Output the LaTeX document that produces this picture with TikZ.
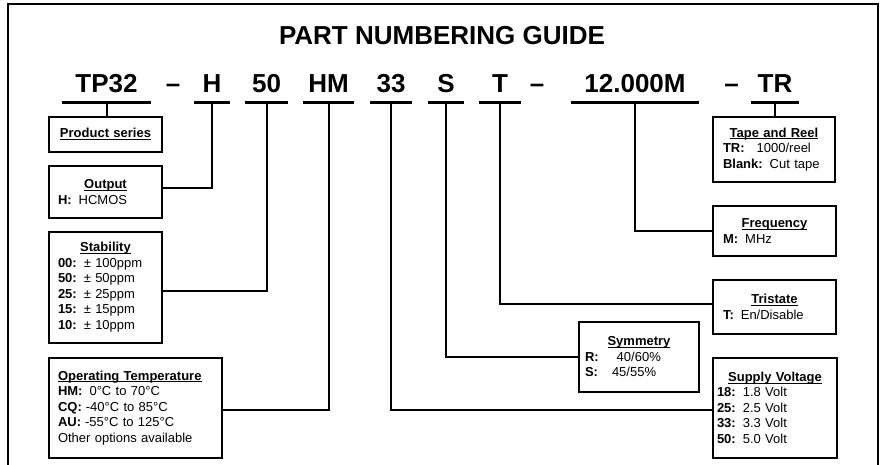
\documentclass[tikz,border=0pt]{standalone}
\usepackage{fontspec}
\setmainfont{Liberation Sans}
\usepackage{tikz}
\usetikzlibrary{positioning, calc}
\setlength{\parindent}{0pt}

\newcommand{\boxtitle}[1]{\makebox[\hsize]{\textbf{\underline{\smash{#1}}}\vphantom{A}}}
\newcommand{\opt}[2]{\textbf{#1}\hspace{7pt}#2}

\begin{document}
\begin{tikzpicture}[
x=1pt, y=-1pt,
code_node/.style={font=\fontsize{26}{30}\selectfont\bfseries, anchor=base, inner sep=0pt, outer sep=0pt, text depth=10pt},
info_node/.style={draw, line width=2.5pt, inner sep=0pt, outer sep=0pt, anchor=north west, align=left, font=\fontsize{13}{15.5}\selectfont},
code_line/.style={line width=3pt},
link/.style={line width=2pt}
]
\useasboundingbox (0,0) rectangle (882,465);

% Frame and title
\draw[line width=2.5pt] (8,465) -- (8,4) -- (878,4) -- (878,465);
\node[font=\fontsize{26}{30}\selectfont\bfseries, anchor=base] (title) at (442,44.5) {PART NUMBERING GUIDE};

% Part number fields
\node[code_node, minimum width=89pt] (tp) at (106.5,93) {TP32};
\node[code_node] (dash1) at (173,93) {\textendash};
\node[code_node, minimum width=36pt] (h) at (212,93) {H};
\node[code_node, minimum width=43pt] (fifty) at (266.5,93) {50};
\node[code_node, minimum width=51pt] (hm) at (328.5,93) {HM};
\node[code_node, minimum width=42pt] (volt) at (391,93) {33};
\node[code_node, minimum width=36pt] (s) at (446,93) {S};
\node[code_node, minimum width=42pt] (t) at (500,93) {T};
\node[code_node] (dash2) at (537,93) {\textendash};
\node[code_node, minimum width=128pt] (mhz) at (635,93) {12.000M};
\node[code_node] (dash3) at (731.5,93) {\textendash};
\node[code_node, minimum width=48pt] (tr) at (775,93) {TR};

% Underlines
\draw[code_line] (tp.south west) -- (tp.south east);
\draw[code_line] (h.south west) -- (h.south east);
\draw[code_line] (fifty.south west) -- (fifty.south east);
\draw[code_line] (hm.south west) -- (hm.south east);
\draw[code_line] (volt.south west) -- (volt.south east);
\draw[code_line] (s.south west) -- (s.south east);
\draw[code_line] (t.south west) -- (t.south east);
\draw[code_line] (mhz.south west) -- (mhz.south east);
\draw[code_line] (tr.south west) -- (tr.south east);

% Left boxes
\node[info_node, minimum width=113pt, minimum height=35pt, text width=95pt] (series) at (49,117) {\boxtitle{Product series}};
\node[info_node, minimum width=113pt, minimum height=52pt, text width=95pt] (output) at (49,166) {\boxtitle{Output}\\
\opt{H:}{HCMOS}};
\node[info_node, minimum width=113pt, minimum height=111pt, text width=95pt] (stab) at (49,232) {\boxtitle{Stability}\\
\opt{00:}{± 100ppm}\\
\opt{50:}{± 50ppm}\\
\opt{25:}{± 25ppm}\\
\opt{15:}{± 15ppm}\\
\opt{10:}{± 10ppm}};
\node[info_node, minimum width=173pt, minimum height=100pt, text width=155pt] (temp) at (49,358) {\textbf{\underline{\smash{Operating Temperature}}}\vphantom{A}\\
\opt{HM:}{0°C to 70°C}\\
\textbf{CQ:}\hspace{4pt}-40°C to 85°C\\
\textbf{AU:}\hspace{4pt}-55°C to 125°C\\
Other options available};

% Right boxes
\node[info_node, minimum width=122pt, minimum height=65pt, text width=102pt] (tape) at (713,117) {\boxtitle{Tape and Reel}\\
\textbf{TR:}\hspace{12pt}1000/reel\\
\opt{Blank:}{Cut tape}};
\node[info_node, minimum width=123pt, minimum height=50pt, text width=103pt] (freq) at (713,206) {\boxtitle{Frequency}\\
\opt{M:}{MHz}};
\node[info_node, minimum width=123pt, minimum height=54pt, text width=103pt] (tri) at (713,280) {\boxtitle{Tristate}\\
\opt{T:}{En/Disable}};
\node[info_node, minimum width=120pt, minimum height=70pt, text width=108pt] (sym) at (579,322) {\boxtitle{Symmetry}\\
\textbf{R:}\hspace{18pt}40/60\%\\
\textbf{S:}\hspace{14pt}45/55\%};
\node[info_node, minimum width=124pt, minimum height=100pt, text width=116pt] (supply) at (713,358) {\boxtitle{Supply Voltage}\\
\opt{18:}{1.8 Volt}\\
\opt{25:}{2.5 Volt}\\
\opt{33:}{3.3 Volt}\\
\opt{50:}{5.0 Volt}};

% Connectors
\draw[link] (tp.south) -- (tp.south |- series.north);
\draw[link] (h.south) |- ([yshift=4pt]output.east);
\draw[link] (fifty.south) |- ([yshift=-3.5pt]stab.east);
\draw[link] (hm.south) |- ([yshift=-2pt]temp.east);
\draw[link] (volt.south) |- ([yshift=-2pt]supply.west);
\draw[link] (s.south) |- (sym.west);
\draw[link] (t.south) |- ([yshift=3.5pt]tri.west);
\draw[link] (mhz.south) |- (freq.west);
\draw[link] (tr.south) -- (tr.south |- tape.north);
\end{tikzpicture}
\end{document}
